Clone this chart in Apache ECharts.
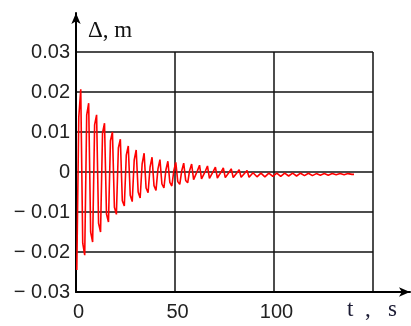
<!DOCTYPE html>
<html>
<head>
<meta charset="utf-8">
<script src="https://cdn.jsdelivr.net/npm/echarts@6/dist/echarts.min.js"></script>
<style>
html, body { margin: 0; padding: 0; background: #fff; }
#chart { width: 411px; height: 326px; }
</style>
</head>
<body>
<div id="chart"></div>
<script>
// 采样：起始时间和步长 (s)
var t0 = 0.4;
var dt = 1.0;

// 位移 Δ, m (每个采样点一个值)
var values = [
	-0.0245, 0.0137, 0.0207, -0.0178, -0.0208, 0.0142, 0.0172, -0.0150, -0.0175, 0.0118,
	0.0143, -0.0128, -0.0150, 0.0098, 0.0122, -0.0105, -0.0125, 0.0078, 0.0100, -0.0088,
	-0.0106, 0.0060, 0.0082, -0.0072, -0.0085, 0.0042, 0.0065, -0.0058, -0.0074, 0.0030,
	0.0055, -0.0050, -0.0065, 0.0020, 0.0047, -0.0040, -0.0052, 0.0012, 0.0037, -0.0034,
	-0.0046, 0.0008, 0.0031, -0.0030, -0.0040, 0.0005, 0.0027, -0.0026, -0.0035, 0.0003,
	0.0024, -0.0024, -0.0031, 0.0003, 0.0022, -0.0021, -0.0027, 0.0004, 0.0020, -0.0019,
	-0.0024, 0.0004, 0.0017, -0.0017, -0.0022, 0.0003, 0.0015, -0.0016, -0.0020, 0.0002,
	0.0012, -0.0015, -0.0019, 0.0001, 0.0010, -0.0014, -0.0018, 0.0000, 0.0008, -0.0014,
	-0.0017, -0.0001, 0.0006, -0.0013, -0.0016, -0.0002, 0.0004, -0.0013, -0.0016, -0.0002,
	0.0003, -0.0012, -0.0015, -0.0003, 0.0002, -0.0012, -0.0015, -0.0003, 0.0001, -0.0011,
	-0.0014, -0.0003, 0.0000, -0.0011, -0.0013, -0.0003, -0.0001, -0.0010, -0.0012, -0.0003,
	-0.0002, -0.0010, -0.0011, -0.0003, -0.0002, -0.0009, -0.0010, -0.0003, -0.0002, -0.0009,
	-0.0009, -0.0004, -0.0003, -0.0008, -0.0009, -0.0004, -0.0003, -0.0008, -0.0008, -0.0004,
	-0.0003, -0.0007, -0.0008, -0.0004, -0.0004, -0.0007, -0.0007, -0.0004, -0.0004, -0.0006,
	-0.0006
];

// 坐标轴刻度
var xTicks = [0, 50, 100, 150];
var yTicks = [-0.03, -0.02, -0.01, 0, 0.01, 0.02, 0.03];
var yLabel = 'Δ, m';
var xLabel = 't  ,   s';

var myChart = echarts.init(document.getElementById('chart'));

var points = [];
for (var i = 0; i < values.length; ++i) {
	points.push([t0 + i * dt, values[i]]);
}

var labelFont = {
	color: '#222',
	fontFamily: 'Liberation Sans',
	fontSize: 20
};

var option = {
	animation: false,
	grid: [{
		left: 76,
		top: 52,
		width: 297,
		height: 240
	}, {
		left: 76,
		top: 13,
		width: 334,
		height: 279
	}],
	xAxis: [{
		gridIndex: 0,
		type: 'value',
		min: xTicks[0],
		max: xTicks[xTicks.length - 1],
		interval: 50,
		axisLine: { show: false },
		axisTick: { show: false },
		splitLine: { show: true, lineStyle: { color: '#111', width: 1.5 } },
		axisLabel: Object.assign({
			margin: 10,
			showMaxLabel: true,
			padding: [0, 0, 0, 5],
			formatter: function(v) {
				return v === xTicks[xTicks.length - 1] ? '' : String(v);
			}
		}, labelFont)
	}, {
		gridIndex: 1,
		type: 'value',
		min: 0,
		max: 1,
		axisLine: {
			show: true,
			symbol: ['none', 'arrow'],
			symbolSize: [7, 11],
			lineStyle: { color: '#000', width: 2 }
		},
		axisTick: { show: false },
		axisLabel: { show: false },
		splitLine: { show: false }
	}],
	yAxis: [{
		gridIndex: 0,
		type: 'value',
		min: yTicks[0],
		max: yTicks[yTicks.length - 1],
		interval: 0.01,
		axisLine: { show: false },
		axisTick: { show: false },
		splitLine: { show: true, lineStyle: { color: '#111', width: 1.5 } },
		axisLabel: Object.assign({
			margin: 6,
			showMinLabel: true,
			showMaxLabel: true,
			formatter: function(v) {
				var r = Math.round(v * 100) / 100;
				if (r === 0) return '0';
				if (r < 0) return '\u2212 ' + Math.abs(r).toFixed(2);
				return r.toFixed(2);
			}
		}, labelFont)
	}, {
		gridIndex: 1,
		type: 'value',
		min: 0,
		max: 1,
		axisLine: {
			show: true,
			symbol: ['none', 'arrow'],
			symbolSize: [7, 11],
			lineStyle: { color: '#000', width: 2 }
		},
		axisTick: { show: false },
		axisLabel: { show: false },
		splitLine: { show: false }
	}],
	graphic: [{
		type: 'text',
		left: 88,
		top: 19,
		style: {
			text: yLabel,
			fill: '#111',
			font: '23px "Liberation Serif"'
		}
	}, {
		type: 'text',
		left: 347,
		top: 298,
		style: {
			text: xLabel,
			fill: '#1a1a33',
			font: '23px "Liberation Serif"'
		}
	}],
	series: [{
		type: 'line',
		xAxisIndex: 0,
		yAxisIndex: 0,
		showSymbol: false,
		data: points,
		lineStyle: { color: '#ff0000', width: 1.6 }
	}]
};

myChart.setOption(option);
</script>
</body>
</html>
